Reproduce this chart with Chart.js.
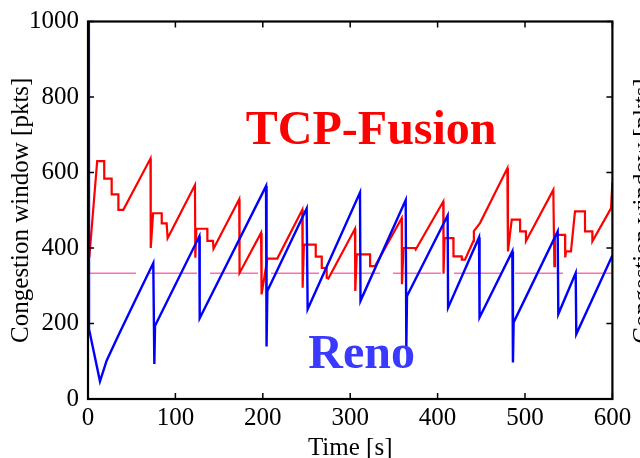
<!DOCTYPE html>
<html>
<head>
<meta charset="utf-8">
<script src="https://cdn.jsdelivr.net/npm/chart.js@4/dist/chart.umd.min.js"></script>
<style>
  html, body { margin: 0; padding: 0; background: #fff; }
  canvas { display: block; }
</style>
</head>
<body>
<canvas id="c" width="640" height="458"></canvas>
<script>
// ---- Data ----
const renoTime = [1, 1.2, 13.7, 21.4, 34.7, 53.8, 74.7, 75.9, 76.7, 127.4, 127.8, 203.7, 204.3, 205.2,
  250.2, 251.3, 311.2, 311.8, 363.5, 364.2, 365, 411.5, 412, 447.4, 448, 485.5, 486.2, 487,
  537.4, 538.1, 558, 558.7, 600];
const renoCwnd = [1000, 185, 47, 102, 168, 260, 360, 93, 194, 431, 214, 564, 139, 286,
  505, 238, 547, 260, 527, 132, 273, 486, 242, 428, 216, 391, 97, 203,
  444, 225, 334, 172, 380];

const fusionTime = [1.5, 10.5, 18.5, 18.6, 27, 27.1, 34.7, 34.8, 40.4, 71.5, 71.8, 74.5, 84.3, 84.4, 90,
  91.1, 122.4, 122.8, 124, 136.5, 136.6, 143, 143.6, 173, 173.4, 198, 198.6, 205.2, 216.6,
  245.2, 245.6, 247, 260.5, 260.6, 267.4, 267.5, 273, 273.1, 275, 305.5, 305.8, 307.5, 322.7,
  322.8, 328.4, 358.9, 359.2, 361, 374.1, 375, 406.5, 406.8, 408, 418, 418.2, 427.5, 427.7,
  431.3, 440.9, 441.5, 448.5, 479.8, 480.5, 484.8, 494.3, 494.4, 501, 501.1, 532.4, 533.6,
  534.3, 545.8, 546, 547, 552.6, 557.2, 568.6, 568.7, 577, 577.1, 598.4, 600];
const fusionCwnd = [375, 630, 630, 584, 584, 542, 542, 501, 501, 637, 400, 492, 492, 465, 465,
  426, 567, 374, 451, 451, 419, 419, 398, 529, 334, 440, 277, 372, 372,
  501, 295, 409, 409, 377, 377, 347, 347, 321, 319, 451, 286, 383, 383,
  352, 352, 479, 304, 400, 400, 396, 523, 332, 426, 426, 378, 378, 369,
  369, 418, 445, 466, 611, 391, 475, 475, 444, 444, 418, 554, 352,
  435, 435, 375, 391, 391, 497, 497, 444, 444, 418, 505, 575];

const refTime = [0, 600];
const refCwnd = [333, 333];

const xTicks = [0, 100, 200, 300, 400, 500, 600];
const yTicks = [0, 200, 400, 600, 800, 1000];

const seriesNames = ['Reno', 'TCP-Fusion'];
const yTitle = 'Congestion window [pkts]';
const xTitle = 'Time [s]';

// ---- Build ----
const toPts = (xs, ys) => xs.map((x, i) => ({ x: x, y: ys[i] }));
const SERIF = "'Liberation Serif', 'Times New Roman', serif";

const framePlugin = {
  id: 'frame',
  afterDatasetsDraw(chart) {
    const { ctx, chartArea: a, scales: { x, y } } = chart;
    ctx.save();
    ctx.strokeStyle = '#000';
    ctx.lineWidth = 1.5;
    const tl = 6;
    ctx.beginPath();
    xTicks.forEach(v => {
      const px = x.getPixelForValue(v);
      ctx.moveTo(px, a.bottom); ctx.lineTo(px, a.bottom - tl);
      ctx.moveTo(px, a.top); ctx.lineTo(px, a.top + tl);
    });
    yTicks.forEach(v => {
      const py = y.getPixelForValue(v);
      ctx.moveTo(a.left, py); ctx.lineTo(a.left + tl, py);
      ctx.moveTo(a.right, py); ctx.lineTo(a.right - tl, py);
    });
    ctx.stroke();
    ctx.lineWidth = 2.2;
    ctx.strokeRect(a.left, a.top, a.right - a.left, a.bottom - a.top);

    // series labels
    ctx.font = 'bold 48px ' + SERIF;
    ctx.textAlign = 'center';
    ctx.textBaseline = 'alphabetic';
    ctx.fillStyle = '#ff0000';
    ctx.fillText(seriesNames[1], x.getPixelForValue(324), y.getPixelForValue(675));
    ctx.fillStyle = '#3a3aff';
    ctx.fillText(seriesNames[0], x.getPixelForValue(313), y.getPixelForValue(83));

    // cut-off axis title of the neighbouring panel
    ctx.fillStyle = '#000';
    ctx.font = '25px ' + SERIF;
    ctx.translate(643, 211);
    ctx.rotate(-Math.PI / 2);
    ctx.textBaseline = 'middle';
    ctx.fillText(yTitle, 0, 0);
    ctx.restore();
  }
};

new Chart(document.getElementById('c'), {
  type: 'line',
  data: {
    datasets: [
      { label: seriesNames[0], data: toPts(renoTime, renoCwnd), borderColor: '#0000ff', borderWidth: 2.4, order: 0 },
      { label: seriesNames[1], data: toPts(fusionTime, fusionCwnd), borderColor: '#ff0000', borderWidth: 2.2, order: 1 },
      { label: 'ref', data: toPts(refTime, refCwnd), borderColor: '#ff6eb4', borderWidth: 1.6, borderDash: [48, 13], order: 2 }
    ]
  },
  options: {
    responsive: false,
    animation: false,
    devicePixelRatio: 1,
    layout: { padding: { left: 0, top: 15, right: 27.6, bottom: 0 } },
    plugins: { legend: { display: false }, tooltip: { enabled: false } },
    elements: { point: { radius: 0 }, line: { tension: 0, fill: false } },
    scales: {
      x: {
        type: 'linear', min: 0, max: 600,
        afterBuildTicks: s => { s.ticks = xTicks.map(v => ({ value: v })); },
        grid: { display: false, drawTicks: false },
        border: { display: false },
        ticks: { color: '#000', font: { family: SERIF, size: 25, lineHeight: 1 }, padding: 7, maxRotation: 0,
                 callback: v => String(v) },
        title: { display: true, text: xTitle, color: '#000', font: { family: SERIF, size: 25, lineHeight: 1 }, padding: { top: 0, bottom: -3 } },
        afterFit: s => { s.height = 59; }
      },
      y: {
        type: 'linear', min: 0, max: 1000,
        afterBuildTicks: s => { s.ticks = yTicks.map(v => ({ value: v })); },
        grid: { display: false, drawTicks: false },
        border: { display: false },
        ticks: { color: '#000', font: { family: SERIF, size: 25, lineHeight: 1 }, padding: 9,
                 callback: v => String(v) },
        title: { display: true, text: yTitle, color: '#000', font: { family: SERIF, size: 25, lineHeight: 1 }, padding: { top: 9, bottom: 0 } },
        afterFit: s => { s.width = 88; }
      }
    }
  },
  plugins: [framePlugin]
});
</script>
</body>
</html>
